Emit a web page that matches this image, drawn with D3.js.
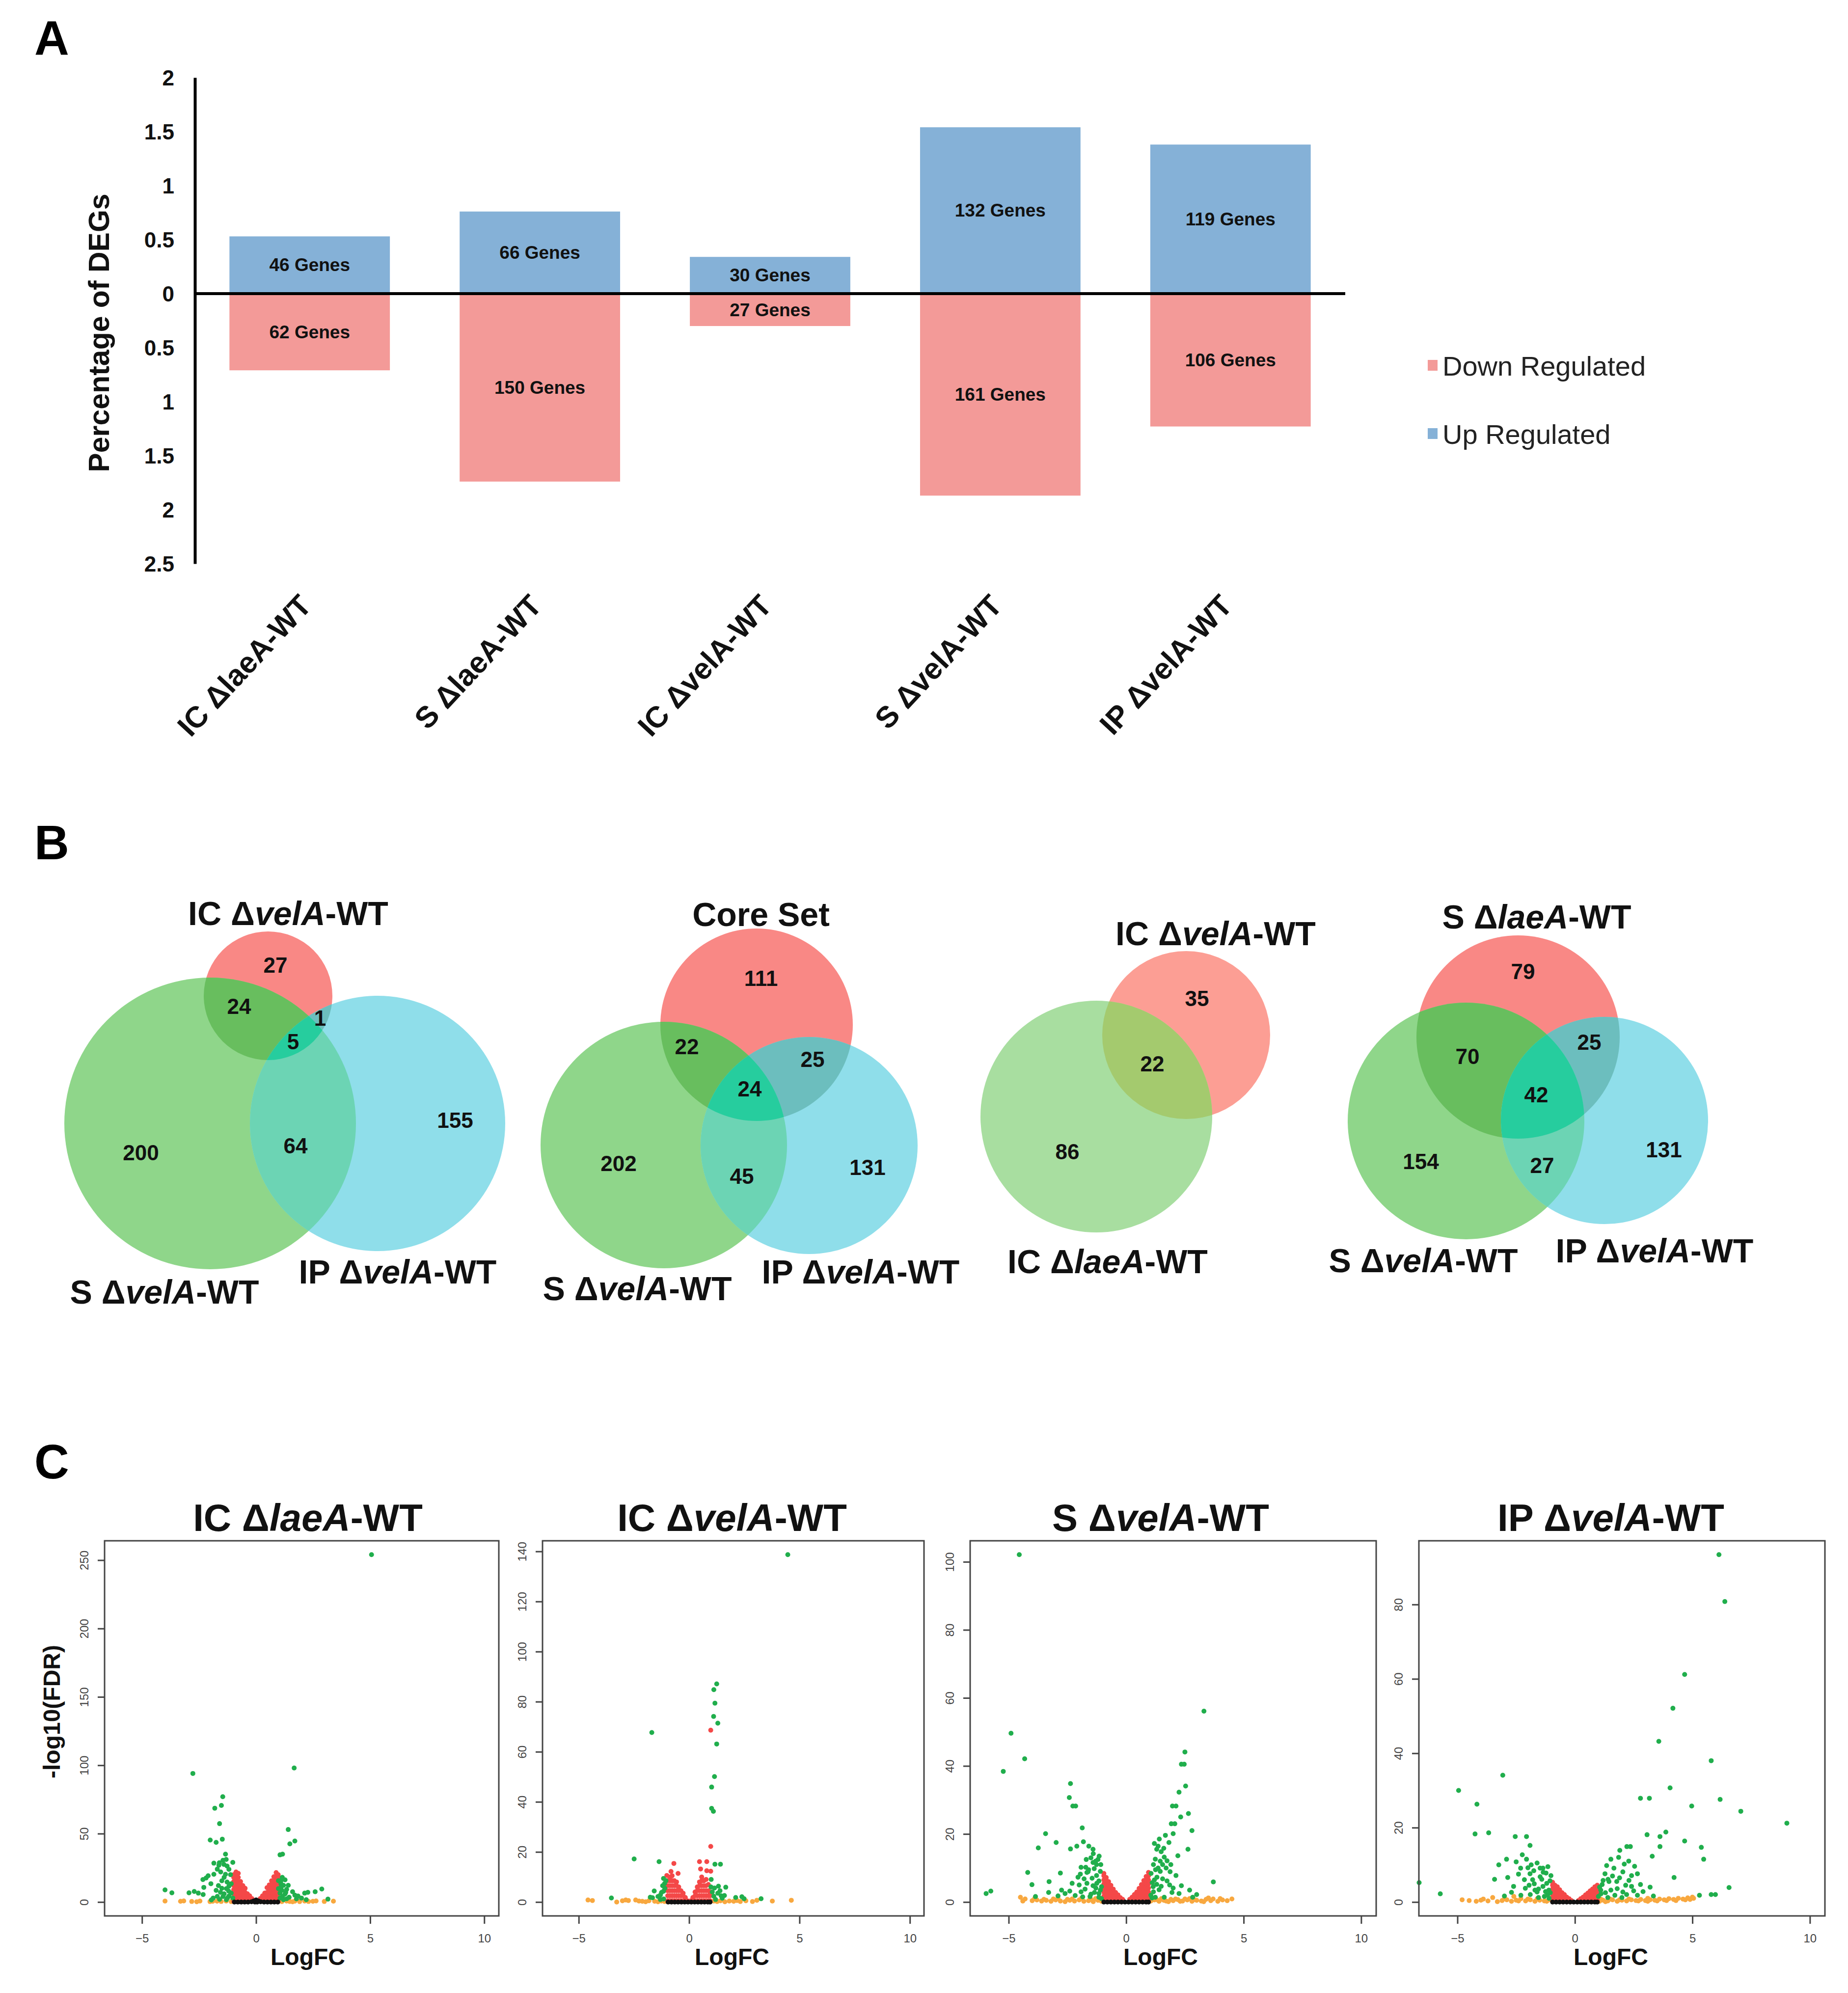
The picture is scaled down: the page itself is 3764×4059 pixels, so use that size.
<!DOCTYPE html>
<html><head><meta charset="utf-8">
<script src="https://cdn.jsdelivr.net/npm/d3@7"></script>
<style>body{margin:0;background:#fff}svg{display:block}</style>
</head><body>
<svg id="fig" width="3764" height="4059"></svg>
<script>
// ---------------- DATA ----------------
// Panel A
const barCategories = ["IC ΔlaeA-WT","S ΔlaeA-WT","IC ΔvelA-WT","S ΔvelA-WT","IP ΔvelA-WT"];
const upValues = [0.53,0.76,0.34,1.54,1.38];
const downValues = [0.71,1.74,0.30,1.87,1.23];
const upGenes = [46,66,30,132,119];
const downGenes = [62,150,27,161,106];
const barYTicks = [2,1.5,1,0.5,0,-0.5,-1,-1.5,-2,-2.5];
const legendLabels = ["Down Regulated","Up Regulated"];

// Panel B (regions: A, AB, AC, ABC, B, BC, C)
const venn3Regions = ["A","AB","AC","ABC","B","BC","C"];
const venn2Regions = ["A","AB","B"];
const vennASets = ["IC ΔvelA-WT","S ΔvelA-WT","IP ΔvelA-WT"];
const vennACounts = [27,24,1,5,200,64,155];
const vennBSets = ["Core Set","S ΔvelA-WT","IP ΔvelA-WT"];
const vennBCounts = [111,22,25,24,202,45,131];
const vennCSets = ["IC ΔvelA-WT","IC ΔlaeA-WT"];
const vennCCounts = [35,22,86];
const vennDSets = ["S ΔlaeA-WT","S ΔvelA-WT","IP ΔvelA-WT"];
const vennDCounts = [79,70,25,42,154,27,131];

// Panel C
const volcanoTitles = ["IC ΔlaeA-WT","IC ΔvelA-WT","S ΔvelA-WT","IP ΔvelA-WT"];
const volcanoXTicks = [-5,0,5,10];
const volcanoXLim = [-6,10];
const volcanoYTicks = [[0,50,100,150,200,250],[0,20,40,60,80,100,120,140],[0,20,40,60,80,100],[0,20,40,60,80]];

const p1Green = [[5.06,254],[-2.77,94],[1.67,98],[-1.46,77],[-1.52,70.6],[-1.81,68.6],[-1.60,57.3],[-2.01,45.3],[-1.75,43.6],[-1.48,45.9],[1.41,53],[1.48,42.5],[1.70,44.6],[1.05,34.5],[1.16,35],[-1.34,35],
[-1.85,28.4],[-1.61,28.7],[-1.45,30.5],[-1.31,31.1],[-1.02,29.0],[-1.63,26.9],[-1.41,27.5],[-1.27,26.3],[-1.19,23.9],[-1.85,20.3],[-1.34,20.3],[-1.12,20],[-2.10,19.2],[-2.33,16.4],[-2.19,17.6],[-1.98,13.4],[-1.27,14.6],[-1.09,13.4],[-1.19,11.6],[-1.30,9.8],[-2.29,10.7],[-3.99,8.9],[-3.69,6.7],[-2.94,6.7],[-2.71,7.7],[-2.53,6.5],[-2.32,5.5],[-1.56,7.1],[-1.70,4.1],[-1.88,2.9],[-1.96,1.5],[-1.09,6.5],[-1.19,4.4],[-1.02,2.9],[-1.30,1.7],[-1.45,4],[-1.6,2],[-1.2,8],[-1.5,10],[-1.75,8.5],
[-1.4,18],[-1.55,22],[-1.7,24],[-1.5,15.5],[-1.65,12],[-1.4,6],[-1.25,3],
[0.98,15.6],[1.13,16.2],[1.27,16.2],[1.09,13.4],[1.20,12.2],[1.41,12.2],[0.98,9.8],[1.13,8.6],[1.34,9.2],[1.05,6.5],[1.27,5.9],[1.16,4.1],[1.05,2.9],[1.34,2.3],[1.20,1.7],[1.70,5.0],[1.84,4.4],[2.13,6.5],[2.27,7.1],[2.59,7.5],[2.88,9.5],[1.77,2.3],[1.99,2.9],[2.20,1.7],[3.15,2.1],
[1.1,11],[1.15,18],[1.3,7],[1.45,3.5],[1.6,7.5]];
const p1Orange = [[-3.99,0.7],[-3.31,0.5],[-3.17,0.8],[-2.82,0.4],[-2.46,0.7],[-2.02,0.3],[-1.71,0.6],[-1.53,0.4],[-1.31,0.7],[-1.09,0.3],[0.98,0.5],[1.13,0.3],[1.34,0.7],[1.48,0.4],[1.70,0.6],[1.91,0.3],[2.13,0.7],[2.49,0.5],[2.63,0.8],[2.99,0.4],[3.39,0.6],[-2.6,0.2],[-1.9,0.5],[1.6,0.2],[2.3,0.4]];
const p1RedCols = [[-0.98,[0.5,3,6,9,12,15,18,20]],[-0.88,[1,4,7,10,13,16,19,22]],[-0.78,[0.5,3,6,9,12,15,18,21]],[-0.68,[1,4,7,10,13,15]],[-0.58,[0.5,3,6,9,12]],[-0.48,[1,4,7,10]],[-0.38,[0.5,3,6]],[-0.28,[1,4.5]],[-0.18,[0.5,2.5]],
[0.18,[0.5,2.5]],[0.28,[1,4.5]],[0.38,[0.5,3,6.5]],[0.48,[1,4,7,10.5]],[0.58,[0.5,3,6,9,12.5]],[0.68,[1,4,7,10,13,15.5]],[0.78,[0.5,3,6,9,12,15,18.5]],[0.88,[1,4,7,10,13,16,19,21.5]],[0.97,[0.5,3,6,9,12,15,18,20]]];
const p1Black = [[-0.95,0],[-0.8,0],[-0.65,0],[-0.5,0],[-0.35,0],[-0.2,0.2],[-0.1,0.8],[-0.05,0],[0,0.3],[0,1.5],[0.05,0],[0.1,0.8],[0.2,0.2],[0.35,0],[0.5,0],[0.65,0],[0.8,0],[0.95,0]];

const p2Green = [[4.47,138.7],[1.25,87.1],[1.12,84.8],[1.17,79.4],[1.11,74.1],[1.30,71.4],[-1.69,67.7],[1.25,63.1],[1.15,50.1],[1.02,45.9],[1.02,37.4],[1.10,36.2],[-2.49,17.2],[-1.36,16.1],[1.17,15.1],[1.42,15.1],[-1.16,9.4],[1.0,9.0],[-1.11,7.4],[0.99,6],[1.15,5.6],[1.33,6.3],[1.66,5.9],[-1.58,4.4],[-1.25,3.8],[-1.16,4.3],[-3.52,1.6],[-1.76,1.9],[-1.66,1.7],[-1.41,2.2],[1.12,2.3],[1.45,2.5],[1.60,2.6],[2.11,1.8],[2.39,2.1],[2.49,1.3],[3.26,1.3],[-1.2,6.5],[-1.05,8.5],[-1.3,2.8],[-1.15,1.2],[1.3,3.5],[1.05,4.0],
[-1.1,5.5],[-1.3,1.0],[1.2,1.0],[1.4,4.5],[1.5,1.5]];
const p2Orange = [[-4.58,0.8],[-4.38,0.6],[-3.28,0],[-3.02,0.5],[-2.87,0.8],[-2.75,0.6],[-2.42,0.8],[-2.27,0.4],[-2.12,0.3],[-1.97,0.1],[-1.82,0.5],[-1.56,0.3],[-1.41,0.1],[-1.26,0.4],[-1.11,0.2],[1.12,0.4],[1.27,0.2],[1.42,0.5],[1.62,0.1],[1.82,0.4],[2.02,0.3],[2.17,0.6],[2.32,0.2],[2.57,0.5],[2.87,0.2],[3.07,0.7],[3.77,0.4],[4.63,0.7]];
const p2RedCols = [[0.98,[68.6,22.2,12.3]],[-0.69,[15.4]],[0.47,[16.1]],[0.80,[16.1,12.5]],[0.52,[13.2]],[-0.82,[12.2]],[-0.50,[11.4]],[-1.01,[10.6]],
[-0.97,[0.5,2.5,4.5,6.5,8.5]],[-0.87,[0.5,2.5,4.5,6.5,8.5,10]],[-0.77,[0.5,2.5,4.5,6.5,8.5,10.5]],[-0.67,[0.5,2.5,4.5,6.5,8.5]],[-0.57,[0.5,2.5,4.5,6.5,8]],[-0.47,[0.5,2.5,4.5,6]],[-0.37,[0.5,2.5,4.5]],[-0.27,[0.5,2.5,3.5]],[-0.17,[0.5,1.8]],[-0.08,[0.5]],
[0.08,[0.5]],[0.17,[0.5,1.8]],[0.27,[0.5,2.5,4]],[0.37,[0.5,2.5,4.5,6]],[0.47,[0.5,2.5,4.5,6.5,8]],[0.57,[0.5,2.5,4.5,6.5,8.5,10]],[0.67,[0.5,2.5,4.5,6.5,8.5]],[0.77,[0.5,2.5,4.5,6.5,9]],[0.87,[0.5,2.5,4.5,7]],[0.95,[0.5,2.5,4]]];
const p2Black = [[-0.95,0],[-0.8,0],[-0.65,0],[-0.5,0],[-0.35,0],[-0.2,0],[-0.05,0],[0.1,0],[0.25,0],[0.4,0],[0.55,0],[0.7,0],[0.85,0],[0.95,0]];

const p3Green = [[-4.55,102.1],[-4.90,49.6],[-4.32,42.1],[-5.23,38.4],[3.31,56.1],[2.50,44.1],[2.35,40.5],[2.47,40.5],[2.53,34.1],[2.25,32.3],[-2.37,34.8],[-2.42,30.7],[-2.27,28.2],[-2.15,28.2],[1.97,28.2],[2.12,28.2],[2.65,26.0],[2.32,25.0],[1.92,23.0],[2.07,23.0],[2.80,21.0],[2.0,20.1],[-1.87,21.8],[-3.43,20.1],[-2.98,17.5],[-3.74,15.9],[-1.82,17.7],[-2.10,16.4],[-1.59,16.4],[-1.41,15.5],[-2.37,15.6],[2.63,15.5],[-4.19,8.7],[-4.01,5.1],[-3.86,1.6],[-3.28,6.0],[-2.80,8.5],[-2.75,3.5],[-5.96,2.5],[-5.76,3.2],[3.71,5.9],[2.83,1.4],
[-1.92,10.2],[-1.72,10.2],[-1.41,11.6],[-1.26,11.0],[-1.62,8.9],[-1.26,7.8],[-2.05,7.3],[-1.16,6.2],[-1.67,5.5],[-2.30,5.5],[-1.29,4.1],[-1.92,3.0],[-1.16,2.5],[-1.54,1.6],[-2.17,1.9],[-1.16,1.4],[-1.67,8.7],[-1.36,9.8],[-1.79,6.8],[-1.41,4.8],[-1.1,9],[-1.2,12.5],[-1.5,13],[-1.05,4.5],[-2.6,2.5],[-1.85,1.5],[-1.35,2.8],[-1.08,11],
[-1.05,1.0],[-1.1,3.5],[-1.25,5.5],[-1.45,7.0],[-1.6,9.5],[-1.3,12.0],[-1.15,13.5],[-1.75,3.8],[-2.0,5.0],[-1.95,8.2],[-1.5,2.3],[-2.4,3.2],[-2.9,1.8],[-3.3,2.8],[-1.7,12.5],[-1.4,14.2],
[1.36,16.4],[1.49,14.8],[1.24,12.6],[1.62,13.2],[1.16,11.0],[1.36,10.0],[1.74,12.1],[1.06,8.4],[1.31,7.3],[1.87,8.9],[1.11,5.7],[1.49,4.6],[1.16,3.0],[1.74,6.2],[2.0,4.1],[2.25,2.5],[1.62,1.4],[1.24,1.4],[2.12,7.8],[1.82,17.5],[1.41,18.5],[1.67,19.6],[1.05,2],[1.2,6.5],[1.45,9],[1.9,11],[1.55,11],[1.3,15.5],
[1.1,1.2],[1.15,4.5],[1.3,5.2],[1.25,9.5],[1.45,12.0],[1.7,10.0],[1.55,6.8],[1.4,3.6],[1.85,5.0],[1.95,2.8],[2.35,4.8],[1.6,15.8],[1.2,17.2],[2.2,13.6],[2.7,3.5],[3.0,2.2]];
const p3Orange = [[-4.5,1.4],[-4.3,0.9],[-4.0,0.4],[-3.8,0.6],[-3.6,0.3],[-3.4,0.5],[-3.2,0.2],[-3.0,0.6],[-2.8,0.3],[-2.6,0.1],[-2.4,0.5],[-2.2,0.3],[-2.0,0.6],[-1.8,0.2],[-1.6,0.4],[-1.4,0.1],[-1.2,0.5],[-1.05,0.2],[1.05,0.3],[1.2,0.6],[1.4,0.2],[1.6,0.5],[1.8,0.1],[2.0,0.4],[2.2,0.7],[2.4,0.3],[2.6,0.6],[2.8,0.2],[3.0,0.5],[3.2,0.3],[3.4,0.8],[3.6,0.4],[3.9,0.2],[4.1,0.6],[4.5,0.9],[-3.1,0.9],[-2.5,0.8],[2.5,0.9],[1.9,0.8],
[-4.4,0.3],[-3.9,1.0],[-3.5,0.8],[-2.9,1.1],[-2.3,0.9],[-1.9,1.1],[-1.5,0.8],[-1.3,1.0],[-1.1,0.7],[1.1,1.0],[1.3,0.7],[1.5,1.0],[1.7,0.3],[2.1,0.9],[2.3,0.2],[2.7,1.0],[2.9,0.7],[3.3,0.1],[3.7,0.9],[4.3,0.4],[3.5,1.2],[4.0,1.0]];
const p3RedCols = [[-0.95,[0.5,1.7,2.9,4.1,5.3,6.5,7.7,8.4]],[-0.85,[0.5,1.7,2.9,4.1,5.3,6.5,7.2]],[-0.75,[0.5,1.7,2.9,4.1,5.3,6]],[-0.65,[0.5,1.7,2.9,4.1,4.9]],[-0.55,[0.5,1.7,2.9,3.8]],[-0.45,[0.5,1.7,2.8]],[-0.35,[0.5,1.7,2.1]],[-0.25,[0.5,1.3]],[-0.15,[0.5,0.8]],
[0.15,[0.4,0.8]],[0.25,[0.5,1.4]],[0.35,[0.5,1.7,2.2]],[0.45,[0.5,1.7,2.9]],[0.55,[0.5,1.7,2.9,4]],[0.65,[0.5,1.7,2.9,4.1,5.1]],[0.75,[0.5,1.7,2.9,4.1,5.3,6.3]],[0.85,[0.5,1.7,2.9,4.1,5.3,6.5,7.5]],[0.95,[0.5,1.7,2.9,4.1,5.3,6.5,7.7,8.7]]];
const p3Black = [[-0.95,0],[-0.8,0],[-0.65,0],[-0.5,0],[-0.35,0],[-0.2,0],[-0.05,0],[0.1,0],[0.25,0],[0.4,0],[0.55,0],[0.7,0],[0.85,0],[0.95,0]];

const p4Green = [[6.13,93.4],[6.38,80.8],[4.67,61.2],[4.17,52.1],[3.57,43.2],[5.80,38.0],[4.05,30.7],[2.79,27.9],[3.17,27.9],[6.18,27.6],[4.97,25.8],[7.06,24.4],[9.02,21.2],[-3.07,34.1],[-4.95,30.0],[-4.17,26.3],[-4.25,18.3],[-3.67,18.6],[-2.54,17.6],[-2.06,17.6],[-1.91,15.2],[3.07,18.1],[3.87,18.8],[3.62,17.6],[3.62,14.9],[4.67,16.4],[5.38,14.7],[5.48,11.5],[3.29,12.3],[4.22,6.6],[6.56,3.9],[5.80,2.0],[5.98,2.0],[5.3,1.8],[3.34,1.6],[-5.73,2.2],[-6.63,5.2],[-3.24,10.0],[-2.91,11.5],[-3.42,6.1],[-2.86,6.6],
[-2.24,12.7],[-2.06,11.5],[-1.86,10.0],[-1.61,10.5],[-1.36,9.1],[-2.31,9.1],[-1.91,7.6],[-1.48,6.8],[-1.23,7.8],[-1.06,5.7],[-1.73,4.9],[-1.36,4.2],[-1.11,3.2],[-1.61,2.7],[-2.11,3.7],[-2.61,4.2],[-1.16,1.9],[-1.41,6.1],[-1.02,7.1],[-1.48,9.1],[-1.2,5],[-1.8,6],[-2.4,7.5],[-1.05,2.5],[-1.3,1.5],[-1.9,2],[-2.3,1.8],[-1.55,3.5],
[-1.1,1.0],[-1.25,2.8],[-1.55,1.2],[-1.7,3.2],[-1.95,4.5],[-2.15,6.0],[-1.35,8.0],[-1.75,8.4],[-1.15,9.5],[-2.0,9.2],[-2.5,10.8],[-2.7,2.6],[-3.0,1.6],
[1.53,11.5],[1.91,13.9],[2.21,14.9],[2.36,14.9],[1.86,12.0],[2.29,11.0],[2.54,9.6],[1.66,9.1],[2.04,8.1],[2.41,7.1],[1.41,6.1],[1.78,5.5],[2.16,4.5],[1.16,4.7],[1.53,3.2],[2.04,2.7],[2.66,7.6],[1.28,7.6],[2.41,4.2],[2.79,4.7],[1.11,2.2],[2.66,1.8],[1.05,4],[1.3,2.5],[1.7,1.8],[2.2,2],[1.45,5.5],[1.0,1.5],
[1.1,3.2],[1.2,5.8],[1.35,9.8],[1.6,7.0],[1.9,6.5],[2.1,10.2],[2.3,5.8],[2.5,3.0],[1.8,3.6],[2.0,1.2],[1.4,1.2],[2.9,2.8],[3.2,4.0]];
const p4Orange = [[-4.8,0.6],[-4.2,0.2],[-4.0,0.5],[-3.7,0.3],[-3.5,1.2],[-3.3,0.1],[-3.1,0.4],[-2.9,0.6],[-2.7,0.2],[-2.5,0.5],[-2.3,0.9],[-2.1,0.3],[-1.9,0.6],[-1.7,0.2],[-1.5,0.5],[-1.3,0.3],[-1.1,0.6],[1.05,0.2],[1.2,0.5],[1.4,0.3],[1.6,0.6],[1.8,0.2],[2.0,0.5],[2.2,0.3],[2.4,0.6],[2.6,0.4],[2.8,0.7],[3.0,0.4],[3.2,0.6],[3.4,0.5],[3.6,0.8],[3.8,0.6],[4.0,0.9],[4.2,0.7],[4.4,1.0],[4.6,0.8],[4.8,1.1],[5.0,1.3],[-2.6,1.5],[3.1,1.0],
[-4.5,0.4],[-3.9,0.8],[-3.0,0.9],[-2.4,0.3],[-2.0,0.8],[-1.6,0.9],[-1.2,0.2],[1.1,0.8],[1.3,0.1],[1.5,0.8],[1.9,0.6],[2.3,0.8],[2.7,0.3],[3.1,0.2],[3.5,0.3],[3.9,0.4],[4.3,0.4],[4.7,0.6],[4.9,0.7],[5.05,1.0]];
const p4RedCols = [[-0.95,[0.5,1.5,2.5,3.5,4.5,5.3]],[-0.85,[0.5,1.5,2.5,3.5,4.5]],[-0.75,[0.5,1.5,2.5,3.5,4.1]],[-0.65,[0.5,1.5,2.5,3.3]],[-0.55,[0.5,1.5,2.5]],[-0.45,[0.5,1.5,2]],[-0.35,[0.5,1.3]],[-0.25,[0.5,0.9]],[-0.15,[0.4]],
[0.15,[0.4]],[0.25,[0.5,0.9]],[0.35,[0.5,1.3]],[0.45,[0.5,1.5,1.9]],[0.55,[0.5,1.5,2.4]],[0.65,[0.5,1.5,2.5,3]],[0.75,[0.5,1.5,2.5,3.5]],[0.85,[0.5,1.5,2.5,3.5,4.1]],[0.95,[0.5,1.5,2.5,3.5,4.5]]];
const p4Black = [[-0.95,0],[-0.8,0],[-0.65,0],[-0.5,0],[-0.35,0],[-0.2,0],[-0.05,0],[0.1,0],[0.25,0],[0.4,0],[0.55,0],[0.7,0],[0.85,0],[0.95,0]];

// ---------------- LAYOUT / STYLE ----------------
const FONT = "'Liberation Sans', Arial, Helvetica, sans-serif";
const UP_COLOR = "#85B1D7", DOWN_COLOR = "#F39A98";
const VENN3_COLORS = {A:"#F98885",B:"#8FD68A",C:"#8FDEEA",AB:"#68BE5E",AC:"#6CBEBE",BC:"#6CD4B4",ABC:"#26CD9E"};
const VENN2_COLORS = {A:"#FC9E94",B:"#A8DEA0",AB:"#A4CA6E"};
const PT = {green:"#20AE4C", red:"#F44848", orange:"#F8A83F", black:"#111111"};

const svg = d3.select("#fig");
svg.append("rect").attr("width",3764).attr("height",4059).attr("fill","#fff");
const defs = svg.append("defs");

function richText(sel, label) {
  const m = label.match(/^(.*Δ)([A-Za-z]+)(-.*)$/);
  if (!m) { sel.text(label); return sel; }
  sel.append("tspan").text(m[1]);
  sel.append("tspan").attr("font-style","italic").text(m[2]);
  sel.append("tspan").text(m[3]);
  return sel;
}

// panel letters
[["A",111],["B",1750],["C",3011]].forEach(([t,yy]) => {
  svg.append("text").attr("x",70).attr("y",yy).attr("font-family",FONT).attr("font-weight","bold")
    .attr("font-size",98).attr("fill","#000").text(t);
});

// ---------------- PANEL A ----------------
const gA = svg.append("g");
const yBar = d3.scaleLinear().domain([-2.5, 2]).range([1148, 158]);
const xBar = d3.scaleBand().domain(barCategories).range([397, 2740]).paddingInner(0.303).paddingOuter(0.15);

gA.selectAll("rect.up").data(barCategories).join("rect").attr("class","up")
  .attr("x", d => xBar(d)).attr("width", xBar.bandwidth())
  .attr("y", (d,i) => yBar(upValues[i])).attr("height", (d,i) => yBar(0) - yBar(upValues[i]))
  .attr("fill", UP_COLOR);
gA.selectAll("rect.down").data(barCategories).join("rect").attr("class","down")
  .attr("x", d => xBar(d)).attr("width", xBar.bandwidth())
  .attr("y", yBar(0)).attr("height", (d,i) => yBar(-downValues[i]) - yBar(0))
  .attr("fill", DOWN_COLOR);

gA.selectAll("text.upl").data(barCategories).join("text").attr("class","upl")
  .attr("x", d => xBar(d) + xBar.bandwidth()/2)
  .attr("y", (d,i) => (yBar(0) + yBar(upValues[i]))/2)
  .attr("dominant-baseline","central").attr("text-anchor","middle")
  .attr("font-family",FONT).attr("font-weight","bold").attr("font-size",37).attr("fill","#111")
  .text((d,i) => upGenes[i] + " Genes");
gA.selectAll("text.dnl").data(barCategories).join("text").attr("class","dnl")
  .attr("x", d => xBar(d) + xBar.bandwidth()/2)
  .attr("y", (d,i) => (yBar(0) + yBar(-downValues[i]))/2)
  .attr("dominant-baseline","central").attr("text-anchor","middle")
  .attr("font-family",FONT).attr("font-weight","bold").attr("font-size",37).attr("fill","#111")
  .text((d,i) => downGenes[i] + " Genes");

// zero line
gA.append("line").attr("x1", xBar.range()[0]).attr("x2", xBar.range()[1])
  .attr("y1", yBar(0)).attr("y2", yBar(0)).attr("stroke","#000").attr("stroke-width",6);

// y axis
const yAx = gA.append("g").attr("transform","translate(397,0)")
  .call(d3.axisLeft(yBar).tickValues(barYTicks).tickSize(0).tickPadding(42).tickFormat(d => String(Math.abs(d))));
yAx.select(".domain").attr("stroke","#000").attr("stroke-width",6);
yAx.selectAll("text").attr("font-family",FONT).attr("font-weight","bold").attr("font-size",44).attr("fill","#111")
  .attr("dy",null).attr("dominant-baseline","central");

gA.append("text").attr("transform","translate(222,678) rotate(-90)").attr("text-anchor","middle")
  .attr("font-family",FONT).attr("font-weight","bold").attr("font-size",59).attr("fill","#111")
  .text("Percentage of DEGs");

// x axis labels
const xAx = gA.append("g").attr("transform","translate(7,1236)")
  .call(d3.axisBottom(xBar).tickSize(0));
xAx.select(".domain").remove();
xAx.selectAll("text").attr("x",0).attr("y",0).attr("dy",null).attr("text-anchor","end")
  .attr("transform","rotate(-47)")
  .attr("font-family",FONT).attr("font-weight","bold").attr("font-size",61).attr("fill","#111");

// legend
const legColors = [DOWN_COLOR, UP_COLOR];
const legY = [744, 883];
legendLabels.forEach((lab,i) => {
  gA.append("rect").attr("x",2908).attr("y",legY[i]-11).attr("width",20).attr("height",22).attr("fill",legColors[i]);
  gA.append("text").attr("x",2938).attr("y",legY[i]+21).attr("font-family",FONT).attr("font-size",56)
    .attr("fill","#222").text(lab);
});

// ---------------- PANEL B ----------------
const vennLayouts = [
  { id:"v1", sets:vennASets, counts:vennACounts, regions:venn3Regions, colors:VENN3_COLORS,
    circles:{A:[546,2028,131],B:[428,2288,297],C:[769,2288,260]},
    labels:[[587,1884],[335,2655],[810,2614]],
    numPos:{A:[561,1965],AB:[487,2049],AC:[652,2073],ABC:[597,2121],B:[287,2347],BC:[602,2333],C:[927,2281]} },
  { id:"v2", sets:vennBSets, counts:vennBCounts, regions:venn3Regions, colors:VENN3_COLORS,
    circles:{A:[1541,2087,196],B:[1352,2332,251],C:[1648,2333,221]},
    labels:[[1550,1886],[1298,2648],[1753,2614]],
    numPos:{A:[1550,1992],AB:[1399,2131],AC:[1655,2157],ABC:[1527,2217],B:[1260,2369],BC:[1511,2395],C:[1767,2377]} },
  { id:"v3", sets:vennCSets, counts:vennCCounts, regions:venn2Regions, colors:VENN2_COLORS,
    circles:{A:[2416,2108,171],B:[2233,2274,236]},
    labels:[[2476,1925],[2256,2593]],
    numPos:{A:[2438,2033],AB:[2347,2166],B:[2174,2345]} },
  { id:"v4", sets:vennDSets, counts:vennDCounts, regions:venn3Regions, colors:VENN3_COLORS,
    circles:{A:[3092,2112,207],B:[2986,2283,241],C:[3268,2282,211]},
    labels:[[3130,1891],[2899,2591],[3370,2571]],
    numPos:{A:[3102,1978],AB:[2989,2151],AC:[3237,2122],ABC:[3129,2229],B:[2894,2365],BC:[3141,2373],C:[3389,2341]} }
];

function circ(g, c, fill) {
  return g.append("circle").attr("cx",c[0]).attr("cy",c[1]).attr("r",c[2]).attr("fill",fill);
}
vennLayouts.forEach(v => {
  const g = svg.append("g");
  const keys = Object.keys(v.circles);
  keys.forEach(k => {
    const c = v.circles[k];
    defs.append("clipPath").attr("id", v.id + k).append("circle").attr("cx",c[0]).attr("cy",c[1]).attr("r",c[2]);
  });
  keys.forEach(k => circ(g, v.circles[k], v.colors[k]));
  circ(g.append("g").attr("clip-path",`url(#${v.id}A)`), v.circles.B, v.colors.AB);
  if (v.circles.C) {
    circ(g.append("g").attr("clip-path",`url(#${v.id}A)`), v.circles.C, v.colors.AC);
    circ(g.append("g").attr("clip-path",`url(#${v.id}B)`), v.circles.C, v.colors.BC);
    circ(g.append("g").attr("clip-path",`url(#${v.id}A)`).append("g").attr("clip-path",`url(#${v.id}B)`), v.circles.C, v.colors.ABC);
  }
  v.regions.forEach((r,i) => {
    const p = v.numPos[r];
    g.append("text").attr("x",p[0]).attr("y",p[1]).attr("text-anchor","middle").attr("dominant-baseline","central")
      .attr("font-family",FONT).attr("font-weight","bold").attr("font-size",44).attr("fill","#111")
      .text(v.counts[i]);
  });
  v.sets.forEach((s,i) => {
    const p = v.labels[i];
    const t = g.append("text").attr("x",p[0]).attr("y",p[1]).attr("text-anchor","middle")
      .attr("font-family",FONT).attr("font-weight","bold").attr("font-size",68).attr("fill","#111");
    richText(t, s);
  });
});

// ---------------- PANEL C ----------------
const volcanoLayout = [
  {left:213, right:1016, center:627},
  {left:1105, right:1882, center:1491},
  {left:1976, right:2803, center:2364},
  {left:2890, right:3717, center:3281}
];
const expandCols = cols => cols.flatMap(([x, ys]) => ys.map(yv => [x, yv]));
const volcanoData = [
  {green:p1Green, orange:p1Orange, red:expandCols(p1RedCols), black:p1Black},
  {green:p2Green, orange:p2Orange, red:expandCols(p2RedCols), black:p2Black},
  {green:p3Green, orange:p3Orange, red:expandCols(p3RedCols), black:p3Black},
  {green:p4Green, orange:p4Orange, red:expandCols(p4RedCols), black:p4Black}
];
const pad = ([a,b]) => [a - 0.04*(b-a), b + 0.04*(b-a)];
const TOP = 3138, BOT = 3902;

volcanoData.forEach((dat, i) => {
  const L = volcanoLayout[i];
  const all = [...dat.green, ...dat.orange, ...dat.red, ...dat.black];
  const yMax = d3.max(all, d => d[1]);
  const x = d3.scaleLinear().domain(pad(volcanoXLim)).range([L.left, L.right]);
  const y = d3.scaleLinear().domain(pad([0, yMax])).range([BOT, TOP]);
  const g = svg.append("g");

  ["orange","red","green","black"].forEach(k => {
    g.append("g").selectAll("circle").data(dat[k]).join("circle")
      .attr("cx", d => x(d[0])).attr("cy", d => y(d[1])).attr("r", 5).attr("fill", PT[k]);
  });

  g.append("rect").attr("x",L.left).attr("y",TOP).attr("width",L.right-L.left).attr("height",BOT-TOP)
    .attr("fill","none").attr("stroke","#444").attr("stroke-width",3);

  const xa = g.append("g").attr("transform",`translate(0,${BOT})`)
    .call(d3.axisBottom(x).tickValues(volcanoXTicks).tickSize(16).tickSizeOuter(0));
  xa.select(".domain").remove();
  xa.selectAll("line").attr("stroke","#444").attr("stroke-width",3);
  xa.selectAll("text").attr("y",54).attr("dy",null).attr("font-family",FONT).attr("font-size",24).attr("fill","#444");

  const ya = g.append("g").attr("transform",`translate(${L.left},0)`)
    .call(d3.axisLeft(y).tickValues(volcanoYTicks[i]).tickSize(14).tickSizeOuter(0));
  ya.select(".domain").remove();
  ya.selectAll("line").attr("stroke","#444").attr("stroke-width",3);
  ya.selectAll("text").attr("x",0).attr("y",0).attr("dy",null).attr("text-anchor","middle")
    .attr("dominant-baseline","central").attr("transform","translate(-42,0) rotate(-90)")
    .attr("font-family",FONT).attr("font-size",24).attr("fill","#444");

  const tt = g.append("text").attr("x",L.center).attr("y",3118).attr("text-anchor","middle")
    .attr("font-family",FONT).attr("font-weight","bold").attr("font-size",78).attr("fill","#111");
  richText(tt, volcanoTitles[i]);

  g.append("text").attr("x",L.center).attr("y",4002).attr("text-anchor","middle")
    .attr("font-family",FONT).attr("font-weight","bold").attr("font-size",48).attr("fill","#111").text("LogFC");
});

svg.append("text").attr("transform","translate(122,3486) rotate(-90)").attr("text-anchor","middle")
  .attr("font-family",FONT).attr("font-weight","bold").attr("font-size",48).attr("fill","#111").text("-log10(FDR)");
</script>
</body></html>
